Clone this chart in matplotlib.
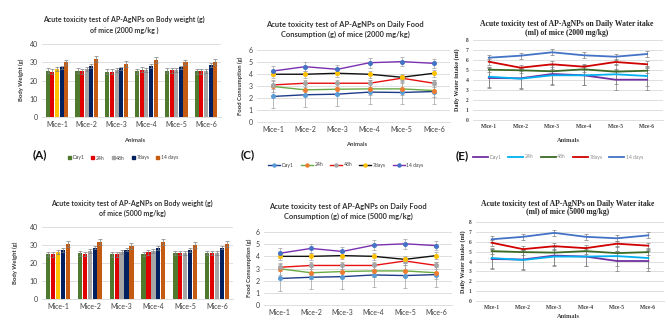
import numpy as np
import matplotlib.pyplot as plt
from matplotlib.lines import Line2D
from matplotlib.patches import Patch

W, H = 668, 320

animals = ["Mice-1", "Mice-2", "Mice-3", "Mice-4", "Mice-5", "Mice-6"]
time_points = ["Day1", "24h", "48h", "7days", "14 days"]

# body weight (g) - rows: time points, cols: mice
bw_2000 = [[25.3, 25.3, 24.8, 25.1, 25.3, 25.1],
           [24.8, 25.1, 24.8, 25.9, 25.5, 25.1],
           [26.2, 26.2, 25.7, 26.0, 25.5, 25.1],
           [27.2, 28.1, 26.6, 28.1, 27.2, 28.4],
           [29.9, 31.6, 29.0, 31.2, 29.9, 30.3]]
bw_5000 = [[25.0, 25.3, 24.8, 25.0, 25.5, 25.5],
           [24.8, 25.0, 24.8, 26.0, 25.5, 25.5],
           [26.0, 26.6, 25.9, 26.6, 25.7, 25.5],
           [27.2, 28.6, 27.5, 28.4, 27.2, 28.6],
           [30.5, 31.7, 29.4, 31.6, 29.9, 30.5]]
bw_err = [1.3, 1.3, 1.1, 1.0, 1.6]

# daily food consumption (g)
food_2000 = [[2.13, 2.27, 2.32, 2.49, 2.46, 2.54],
             [2.96, 2.68, 2.73, 2.76, 2.76, 2.62],
             [3.09, 3.23, 3.23, 3.23, 3.65, 3.23],
             [3.98, 3.98, 4.06, 3.98, 3.73, 4.06],
             [4.25, 4.61, 4.39, 4.94, 5.03, 4.89]]
food_5000 = [[2.18, 2.28, 2.33, 2.47, 2.42, 2.50],
             [2.98, 2.65, 2.75, 2.80, 2.80, 2.65],
             [3.10, 3.25, 3.25, 3.25, 3.62, 3.25],
             [4.00, 4.00, 4.06, 4.00, 3.75, 4.06],
             [4.25, 4.65, 4.40, 4.92, 5.03, 4.88]]
food_err = [1.0, 0.5, 0.3, 0.3, 0.4]

# daily water intake (ml)
water_2000 = [[4.20, 4.17, 4.60, 4.47, 4.03, 4.03],
              [4.33, 4.13, 4.47, 4.47, 4.57, 4.40],
              [5.03, 4.97, 4.87, 5.07, 4.83, 4.93],
              [5.83, 5.23, 5.57, 5.33, 5.80, 5.57],
              [6.23, 6.43, 6.77, 6.47, 6.33, 6.60]]
water_5000 = [[4.25, 4.20, 4.60, 4.50, 4.05, 4.05],
              [4.35, 4.15, 4.50, 4.50, 4.55, 4.35],
              [5.05, 4.95, 4.90, 5.05, 4.85, 4.95],
              [5.90, 5.25, 5.55, 5.35, 5.80, 5.60],
              [6.25, 6.50, 6.90, 6.50, 6.35, 6.65]]
water_err = [1.0, 1.0, 0.25, 0.3, 0.3]

bar_colors = ["#4F7A2E", "#E00000", "#A6A6A6", "#002060", "#C55A11"]
food_lines = ["#1F3C88", "#6AAA45", "#E81010", "#111111", "#7A30B0"]
food_marks = ["#5B9BD5", "#ED7D31", "#A5A5A5", "#FFC000", "#4472C4"]
water_lines = ["#7030A0", "#00B0F0", "#3B6A24", "#D00000", "#4472C4"]

SANS = ["Lato", "DejaVu Sans"]
SERIF = ["Liberation Serif", "DejaVu Serif"]

fig = plt.figure(figsize=(W / 100, H / 100), dpi=100)


def box(l, t, r, b):
    return [l / W, 1 - b / H, (r - l) / W, (b - t) / H]


def ftext(x, y, s, **kw):
    fig.text(x / W, 1 - y / H, s, ha="center", va="center", **kw)


def style_axis(ax, ymax, step, family, tsize):
    ax.set_xlim(-0.5, 5.5)
    ax.set_ylim(0, ymax)
    ax.set_yticks(np.arange(0, ymax + 0.1, step))
    ax.set_xticks(range(6))
    ax.set_xticklabels(animals)
    ax.grid(axis="y", color="#D9D9D9", lw=0.6)
    ax.set_axisbelow(True)
    for s in ["top", "right", "left"]:
        ax.spines[s].set_visible(False)
    ax.spines["bottom"].set_color("#D9D9D9")
    ax.spines["bottom"].set_linewidth(0.6)
    ax.tick_params(length=0, labelsize=tsize, colors="#404040", pad=3)
    for lab in ax.get_xticklabels() + ax.get_yticklabels():
        lab.set_family(family)
        lab.set_fontweight("bold" if family == SERIF else "normal")


def bar_panel(rect, data, title_xy, title, ylab_xy):
    ax = fig.add_axes(box(*rect))
    x = np.arange(6)
    for i, vals in enumerate(data):
        cols = [bar_colors[i]] * 6
        if i == 2:
            cols[0] = "#FFC000"
        ax.bar(x + (i - 2) * 0.155, vals, width=0.135, color=cols,
               yerr=bw_err[i], ecolor="#7F7F7F", error_kw=dict(lw=0.5, capsize=1.2, capthick=0.5))
    style_axis(ax, 40, 10, SANS, 5)
    ftext(*title_xy, title, family=SANS, fontsize=5.0, fontweight="bold", color="#333333",
          linespacing=1.55)
    ftext(*ylab_xy, "Body Weight (g)", family=SANS, fontsize=4.2, fontweight="bold",
          color="#333333", rotation=90)
    return ax


def food_panel(rect, data, title_xy, title, ylab_xy):
    ax = fig.add_axes(box(*rect))
    x = np.arange(6)
    for i, vals in enumerate(data):
        ax.errorbar(x, vals, yerr=food_err[i], color=food_lines[i], lw=1.0,
                    ecolor="#A0A0A0", elinewidth=0.5, capsize=1.3, capthick=0.5,
                    marker="o", ms=2.6, mfc=food_marks[i], mec=food_marks[i])
    style_axis(ax, 6, 1, SANS, 5)
    ftext(*title_xy, title, family=SANS, fontsize=5.4, fontweight="bold", color="#333333",
          linespacing=1.45)
    ftext(*ylab_xy, "Food Consumption (g)", family=SANS, fontsize=4.2, fontweight="bold",
          color="#333333", rotation=90)
    return ax


def water_panel(rect, data, title_xy, title, ylab_xy):
    ax = fig.add_axes(box(*rect))
    x = np.arange(6)
    for i, vals in enumerate(data):
        ax.errorbar(x, vals, yerr=water_err[i], color=water_lines[i], lw=1.3,
                    ecolor="#808080", elinewidth=0.5, capsize=1.3, capthick=0.5)
    style_axis(ax, 8, 1, SERIF, 4.0)
    ftext(*title_xy, title, family=SERIF, fontsize=5.5, fontweight="bold", color="#262626",
          linespacing=1.1)
    ftext(*ylab_xy, "Daily Water intake (ml)", family=SERIF, fontsize=4.4, fontweight="bold",
          color="#262626", rotation=90)
    return ax


# top row (2000 mg/kg)
axA = bar_panel((42, 44, 221, 117), bw_2000, (124, 25),
                "Acute toxicity test of AP-AgNPs on Body weight (g)\nof mice (2000 mg/kg )", (21, 80))
axC = food_panel((257, 50, 450, 122), food_2000, (345, 29.5),
                 "Acute toxicity test of AP-AgNPs on Daily Food\nConsumption (g) of mice (2000 mg/kg)", (240, 86))
axE = water_panel((473, 40, 663, 120), water_2000, (567, 28.5),
                  "Acute toxicity test of AP-AgNPs on Daily Water itake\n(ml) of mice (2000 mg/kg)", (457, 80))

# bottom row (5000 mg/kg)
axB = bar_panel((42, 227, 233, 299), bw_5000, (132, 208.5),
                "Acute toxicity test of AP-AgNPs on Body weight (g)\nof mice (5000 mg/kg)", (15, 263))
axD = food_panel((264, 232, 452, 305), food_5000, (348, 211.5),
                 "Acute toxicity test of AP-AgNPs on Daily Food\nConsumption (g) of mice (5000 mg/kg)", (249, 268))
axF = water_panel((476, 222, 664, 301), water_5000, (568, 208),
                  "Acute toxicity test of AP-AgNPs on Daily Water itake\n(ml) of mice (5000 mg/kg)", (463, 262))

# axis titles
ftext(135, 141, "Animals", family=SANS, fontsize=4.2, fontweight="bold", color="#404040")
ftext(357, 145, "Animals", family=SANS, fontsize=4.2, fontweight="bold", color="#404040")
ftext(568, 140, "Animals", family=SERIF, fontsize=4.6, fontweight="bold", color="#404040")
ftext(568, 316, "Animals", family=SERIF, fontsize=4.6, fontweight="bold", color="#404040")

# panel letters
ftext(40, 155, "(A)", family=SANS, fontsize=8.5, fontweight="bold", color="#111111")
ftext(248, 155, "(C)", family=SANS, fontsize=8.5, fontweight="bold", color="#111111")
ftext(462, 156, "(E)", family=SANS, fontsize=8.5, fontweight="bold", color="#111111")

# legends
bar_handles = [Patch(color=c) for c in bar_colors]
food_handles = [Line2D([], [], color=food_lines[i], lw=1.0, marker="o", ms=2.2,
                       mfc=food_marks[i], mec=food_marks[i]) for i in range(5)]
water_handles = [Line2D([], [], color=c, lw=1.3) for c in water_lines]

for handles, (lx, ly), hl, tcol in [(bar_handles, (123, 158), 0.6, "#404040"),
                                   (food_handles, (346, 165), 2.4, "#404040"),
                                   (water_handles, (558, 157), 3.0, "#8C8C8C")]:
    leg = fig.legend(handles, time_points, loc="center", bbox_to_anchor=(lx / W, 1 - ly / H),
                     ncol=5, frameon=False, fontsize=3.6, handlelength=hl, handleheight=0.6,
                     handletextpad=0.3, columnspacing=1.4)
    for t in leg.get_texts():
        t.set_color(tcol)
        t.set_family(SANS)

fig.savefig("out.png", dpi=100, facecolor="white")
